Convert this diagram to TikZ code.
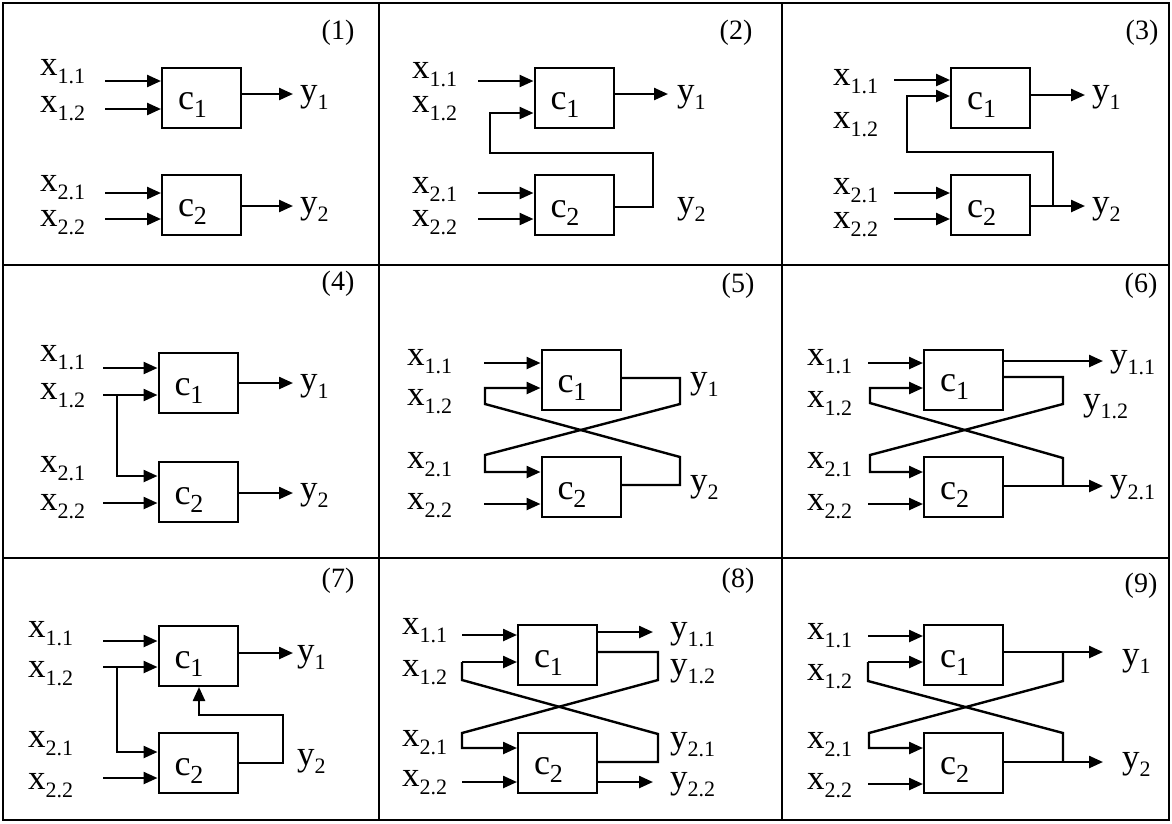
\documentclass[tikz,border=0pt]{standalone}
\usepackage{fontspec}
\setmainfont{Liberation Serif}
\usetikzlibrary{arrows.meta}
\newcommand{\vr}[2]{{\fontsize{35}{35}\selectfont #1}\raisebox{-8pt}{\fontsize{22}{22}\selectfont #2}}
\newcommand{\cc}[1]{{\fontsize{36}{36}\selectfont c}\raisebox{-8pt}{\fontsize{26}{26}\selectfont #1}\hspace*{18pt}}
\tikzset{
  box/.style={draw, line width=2pt, minimum width=79pt, minimum height=60pt, inner sep=0pt,
              text height=25pt, text depth=1pt},
  arr/.style={line width=2.4pt, -{Triangle[length=14pt,width=12pt]}},
  wire/.style={line width=2.4pt},
  lbl/.style={anchor=base west, inner sep=0pt},
  num/.style={inner sep=0pt, font=\fontsize{28}{28}\selectfont},
  frame/.style={line width=2.8pt}
}
\begin{document}
\begin{tikzpicture}[x=1pt,y=-1pt]
\useasboundingbox (0,0) rectangle (1172,823);
\fill[white] (0,0) rectangle (1172,823);
% frame
\draw[frame] (3,3) rectangle (1169,820);
\draw[frame] (379,3) -- (379,820);
\draw[frame] (782,3) -- (782,820);
\draw[frame] (3,265) -- (1169,265);
\draw[frame] (3,558) -- (1169,558);

% ---------- Panel 1
\node[num] (n1) at (338,33) {(1)};
\node[box] (p1c1) at (201.5,97.5) {\cc{1}};
\node[box] (p1c2) at (201.5,204.5) {\cc{2}};
\node[lbl] (p1x11) at (40,75) {\vr{x}{1.1}};
\node[lbl] (p1x12) at (40,112) {\vr{x}{1.2}};
\node[lbl] (p1x21) at (40,191) {\vr{x}{2.1}};
\node[lbl] (p1x22) at (40,226) {\vr{x}{2.2}};
\node[lbl] (p1y1) at (300,101) {\vr{y}{1}};
\node[lbl] (p1y2) at (300,213) {\vr{y}{2}};
\draw[arr] (105,81) -- (p1c1.west |- 105,81);
\draw[arr] (105,109) -- (p1c1.west |- 105,109);
\draw[arr] (105,193) -- (p1c2.west |- 105,193);
\draw[arr] (105,219) -- (p1c2.west |- 105,219);
\draw[arr] (p1c1.east |- 0,94) -- (293,94);
\draw[arr] (p1c2.east |- 0,206) -- (293,206);

% ---------- Panel 2
\node[num] (n2) at (736,33) {(2)};
\node[box] (p2c1) at (574,97.5) {\cc{1}};
\node[box] (p2c2) at (574,205) {\cc{2}};
\node[lbl] (p2x11) at (412,78) {\vr{x}{1.1}};
\node[lbl] (p2x12) at (412,112) {\vr{x}{1.2}};
\node[lbl] (p2x21) at (412,193) {\vr{x}{2.1}};
\node[lbl] (p2x22) at (412,226) {\vr{x}{2.2}};
\node[lbl] (p2y1) at (677,101) {\vr{y}{1}};
\node[lbl] (p2y2) at (677,213) {\vr{y}{2}};
\draw[arr] (478,81) -- (p2c1.west |- 478,81);
\draw[arr] (p2c2.east |- 0,207) -- (653,207) -- (653,153) -- (490,153) -- (490,113) -- (p2c1.west |- 0,113);
\draw[arr] (478,193) -- (p2c2.west |- 478,193);
\draw[arr] (478,219) -- (p2c2.west |- 478,219);
\draw[arr] (p2c1.east |- 0,94) -- (668,94);

% ---------- Panel 3
\node[num] (n3) at (1142,33) {(3)};
\node[box] (p3c1) at (990.5,97.5) {\cc{1}};
\node[box] (p3c2) at (990.5,205) {\cc{2}};
\node[lbl] (p3x11) at (833,85) {\vr{x}{1.1}};
\node[lbl] (p3x12) at (833,128) {\vr{x}{1.2}};
\node[lbl] (p3x21) at (833,194) {\vr{x}{2.1}};
\node[lbl] (p3x22) at (833,228) {\vr{x}{2.2}};
\node[lbl] (p3y1) at (1092,101) {\vr{y}{1}};
\node[lbl] (p3y2) at (1092,213) {\vr{y}{2}};
\draw[arr] (894,80) -- (p3c1.west |- 894,80);
\draw[arr] (p3c1.east |- 0,95) -- (1085,95);
\draw[arr] (p3c2.east |- 0,206) -- (1085,206);
\draw[arr] (1053,206) -- (1053,152) -- (907,152) -- (907,96) -- (p3c1.west |- 0,96);
\draw[arr] (894,193) -- (p3c2.west |- 894,193);
\draw[arr] (894,219) -- (p3c2.west |- 894,219);

% ---------- Panel 4
\node[num] (n4) at (338,284) {(4)};
\node[box] (p4c1) at (198,383) {\cc{1}};
\node[box] (p4c2) at (198,492) {\cc{2}};
\node[lbl] (p4x11) at (40,361) {\vr{x}{1.1}};
\node[lbl] (p4x12) at (40,399) {\vr{x}{1.2}};
\node[lbl] (p4x21) at (40,472) {\vr{x}{2.1}};
\node[lbl] (p4x22) at (40,510) {\vr{x}{2.2}};
\node[lbl] (p4y1) at (300,390) {\vr{y}{1}};
\node[lbl] (p4y2) at (300,499) {\vr{y}{2}};
\draw[arr] (103,368) -- (p4c1.west |- 103,368);
\draw[arr] (103,395) -- (p4c1.west |- 103,395);
\draw[arr] (117,395) -- (117,476) -- (p4c2.west |- 0,476);
\draw[arr] (103,503) -- (p4c2.west |- 103,503);
\draw[arr] (p4c1.east |- 0,383) -- (293,383);
\draw[arr] (p4c2.east |- 0,493) -- (293,493);

% ---------- Panel 5
\node[num] (n5) at (738,286) {(5)};
\node[box] (p5c1) at (581,380) {\cc{1}};
\node[box] (p5c2) at (581,487) {\cc{2}};
\node[lbl] (p5x11) at (407,365) {\vr{x}{1.1}};
\node[lbl] (p5x12) at (407,405) {\vr{x}{1.2}};
\node[lbl] (p5x21) at (407,468) {\vr{x}{2.1}};
\node[lbl] (p5x22) at (407,509) {\vr{x}{2.2}};
\node[lbl] (p5y1) at (690,388) {\vr{y}{1}};
\node[lbl] (p5y2) at (690,491) {\vr{y}{2}};
\draw[arr] (484,363) -- (p5c1.west |- 484,363);
\draw[arr] (p5c2.east |- 0,485) -- (680,485) -- (680,457) -- (485,404) -- (485,388) -- (p5c1.west |- 0,388);
\draw[arr] (p5c1.east |- 0,378) -- (680,378) -- (680,404) -- (485,455) -- (485,472) -- (p5c2.west |- 0,472);
\draw[arr] (484,504) -- (p5c2.west |- 484,504);

% ---------- Panel 6
\node[num] (n6) at (1141,286) {(6)};
\node[box] (p6c1) at (963.5,379.5) {\cc{1}};
\node[box] (p6c2) at (963.5,487) {\cc{2}};
\node[lbl] (p6x11) at (807,365) {\vr{x}{1.1}};
\node[lbl] (p6x12) at (807,407) {\vr{x}{1.2}};
\node[lbl] (p6x21) at (807,468) {\vr{x}{2.1}};
\node[lbl] (p6x22) at (807,510) {\vr{x}{2.2}};
\node[lbl] (p6y11) at (1110,366) {\vr{y}{1.1}};
\node[lbl] (p6y12) at (1083,410) {\vr{y}{1.2}};
\node[lbl] (p6y21) at (1110,491) {\vr{y}{2.1}};
\draw[arr] (868,363) -- (p6c1.west |- 868,363);
\draw[arr] (p6c1.east |- 0,361) -- (1103,361);
\draw[arr] (p6c1.east |- 0,377) -- (1063,377) -- (1063,404) -- (870,455) -- (870,472) -- (p6c2.west |- 0,472);
\draw[arr] (p6c2.east |- 0,486) -- (1103,486);
\draw[arr] (1063,486) -- (1063,458) -- (870,403) -- (870,388) -- (p6c1.west |- 0,388);
\draw[arr] (868,504) -- (p6c2.west |- 868,504);

% ---------- Panel 7
\node[num] (n7) at (338,581) {(7)};
\node[box] (p7c1) at (198,656) {\cc{1}};
\node[box] (p7c2) at (198,763) {\cc{2}};
\node[lbl] (p7x11) at (28,637) {\vr{x}{1.1}};
\node[lbl] (p7x12) at (28,677) {\vr{x}{1.2}};
\node[lbl] (p7x21) at (28,747) {\vr{x}{2.1}};
\node[lbl] (p7x22) at (28,789) {\vr{x}{2.2}};
\node[lbl] (p7y1) at (297,661) {\vr{y}{1}};
\node[lbl] (p7y2) at (297,765) {\vr{y}{2}};
\draw[arr] (103,641) -- (p7c1.west |- 103,641);
\draw[arr] (103,667) -- (p7c1.west |- 103,667);
\draw[arr] (117,667) -- (117,752) -- (p7c2.west |- 0,752);
\draw[arr] (103,778) -- (p7c2.west |- 103,778);
\draw[arr] (p7c1.east |- 0,653) -- (293,653);
\draw[arr] (p7c2.east |- 0,763) -- (283,763) -- (283,715) -- (199,715) -- (p7c1.south -| 199,0);

% ---------- Panel 8
\node[num] (n8) at (738,581) {(8)};
\node[box] (p8c1) at (557.5,655) {\cc{1}};
\node[box] (p8c2) at (557.5,762.5) {\cc{2}};
\node[lbl] (p8x11) at (402,634) {\vr{x}{1.1}};
\node[lbl] (p8x12) at (402,676) {\vr{x}{1.2}};
\node[lbl] (p8x21) at (402,746) {\vr{x}{2.1}};
\node[lbl] (p8x22) at (402,786) {\vr{x}{2.2}};
\node[lbl] (p8y11) at (670,638) {\vr{y}{1.1}};
\node[lbl] (p8y12) at (670,675) {\vr{y}{1.2}};
\node[lbl] (p8y21) at (670,748) {\vr{y}{2.1}};
\node[lbl] (p8y22) at (670,788) {\vr{y}{2.2}};
\draw[arr] (462,635) -- (p8c1.west |- 462,635);
\draw[arr] (p8c1.east |- 0,632) -- (653,632);
\draw[arr] (p8c1.east |- 0,652) -- (658,652) -- (658,680) -- (462,733) -- (462,748) -- (p8c2.west |- 0,748);
\draw[arr] (462,662) -- (p8c1.west |- 462,662);
\draw[wire] (462,662) -- (462,680) -- (658,734) -- (658,762) -- (p8c2.east |- 0,762);
\draw[arr] (p8c2.east |- 0,782) -- (653,782);
\draw[arr] (462,782) -- (p8c2.west |- 462,782);

% ---------- Panel 9
\node[num] (n9) at (1141,586) {(9)};
\node[box] (p9c1) at (963.5,655) {\cc{1}};
\node[box] (p9c2) at (963.5,762.5) {\cc{2}};
\node[lbl] (p9x11) at (807,639) {\vr{x}{1.1}};
\node[lbl] (p9x12) at (807,680) {\vr{x}{1.2}};
\node[lbl] (p9x21) at (807,748) {\vr{x}{2.1}};
\node[lbl] (p9x22) at (807,789) {\vr{x}{2.2}};
\node[lbl] (p9y1) at (1122,665) {\vr{y}{1}};
\node[lbl] (p9y2) at (1122,768) {\vr{y}{2}};
\draw[arr] (868,636) -- (p9c1.west |- 868,636);
\draw[arr] (p9c1.east |- 0,652) -- (1103,652);
\draw[arr] (1063,652) -- (1063,681) -- (869,733) -- (869,748) -- (p9c2.west |- 0,748);
\draw[arr] (868,662) -- (p9c1.west |- 868,662);
\draw[wire] (868,662) -- (868,681) -- (1063,733) -- (1063,762);
\draw[arr] (p9c2.east |- 0,762) -- (1103,762);
\draw[arr] (868,784) -- (p9c2.west |- 868,784);
\end{tikzpicture}
\end{document}
